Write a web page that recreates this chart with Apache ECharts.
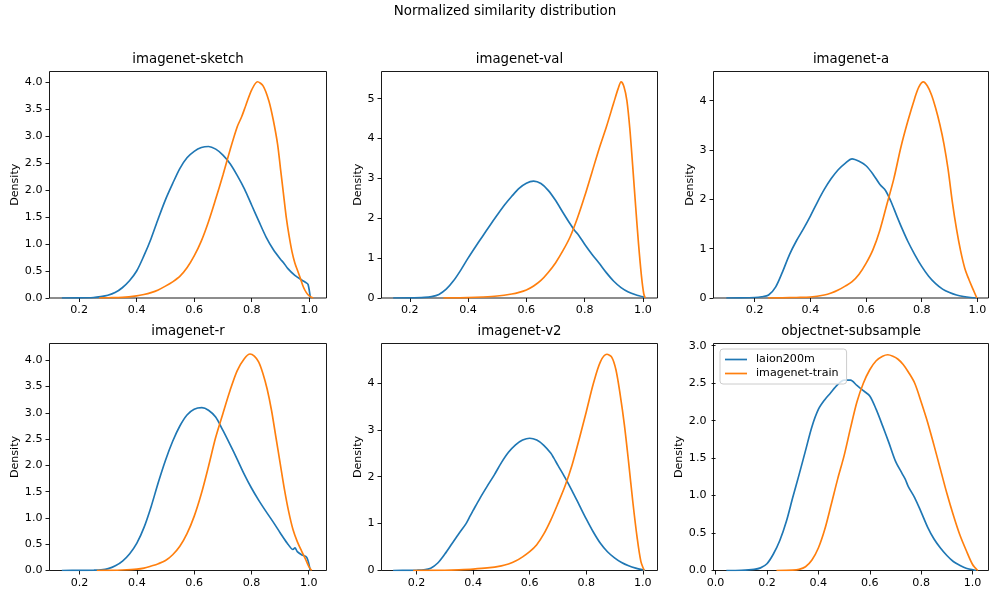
<!DOCTYPE html>
<html><head><meta charset="utf-8">
<script src="https://cdn.jsdelivr.net/npm/echarts@6/dist/echarts.min.js"></script>
<style>html,body{margin:0;padding:0;background:#fff}#c{width:990px;height:590px}</style>
</head><body><div id="c"></div>
<script>
// ---------- data ----------
const figureTitle = 'Normalized similarity distribution';
const seriesNames = ['laion200m', 'imagenet-train'];
const panelTitles = ['imagenet-sketch', 'imagenet-val', 'imagenet-a', 'imagenet-r', 'imagenet-v2', 'objectnet-subsample'];
const yAxisName = 'Density';

const sketchLaion = [[0.14,0],[0.2,0.002],[0.25,0.01],[0.275,0.025],[0.3,0.05],[0.325,0.1],[0.35,0.19],[0.375,0.32],[0.4,0.5],[0.425,0.78],[0.45,1.1],[0.475,1.47],[0.5,1.82],[0.525,2.12],[0.55,2.4],[0.575,2.6],[0.6,2.72],[0.625,2.79],[0.65,2.81],[0.675,2.76],[0.7,2.65],[0.725,2.49],[0.75,2.27],[0.775,2.02],[0.8,1.72],[0.825,1.42],[0.85,1.13],[0.875,0.9],[0.9,0.72],[0.91,0.66],[0.925,0.55],[0.95,0.42],[0.975,0.33],[0.99,0.28],[0.996,0.25],[1.004,0]];
const sketchTrain = [[0.27,0],[0.3,0.004],[0.35,0.012],[0.4,0.04],[0.425,0.065],[0.45,0.1],[0.475,0.15],[0.5,0.22],[0.525,0.3],[0.55,0.4],[0.575,0.56],[0.6,0.78],[0.625,1.06],[0.65,1.42],[0.675,1.84],[0.7,2.28],[0.725,2.75],[0.75,3.18],[0.765,3.36],[0.78,3.58],[0.8,3.86],[0.82,4.01],[0.84,3.93],[0.86,3.65],[0.875,3.3],[0.89,2.85],[0.9,2.4],[0.91,1.95],[0.92,1.5],[0.93,1.15],[0.94,0.86],[0.95,0.65],[0.96,0.5],[0.97,0.35],[0.98,0.2],[0.99,0.1],[1.0,0.04],[1.014,0]];

const valLaion = [[0.143,0],[0.2,0.003],[0.25,0.015],[0.275,0.035],[0.3,0.09],[0.325,0.22],[0.35,0.43],[0.375,0.7],[0.4,1.0],[0.425,1.28],[0.45,1.55],[0.475,1.82],[0.5,2.08],[0.525,2.33],[0.55,2.55],[0.575,2.75],[0.6,2.88],[0.625,2.93],[0.65,2.87],[0.675,2.7],[0.7,2.45],[0.725,2.15],[0.75,1.86],[0.765,1.7],[0.78,1.57],[0.8,1.35],[0.825,1.1],[0.85,0.87],[0.875,0.63],[0.9,0.42],[0.925,0.26],[0.95,0.15],[0.975,0.08],[1.0,0.03],[1.005,0]];
const valTrain = [[0.315,0],[0.35,0.003],[0.4,0.01],[0.45,0.025],[0.5,0.05],[0.55,0.1],[0.575,0.14],[0.6,0.2],[0.625,0.3],[0.65,0.44],[0.675,0.64],[0.7,0.88],[0.725,1.18],[0.75,1.53],[0.775,2.0],[0.8,2.55],[0.825,3.15],[0.85,3.75],[0.875,4.3],[0.9,4.9],[0.915,5.25],[0.925,5.42],[0.935,5.3],[0.945,4.95],[0.955,4.25],[0.965,3.3],[0.975,2.3],[0.985,1.35],[0.995,0.55],[1.003,0.1],[1.008,0]];

const aLaion = [[0.098,0],[0.15,0.002],[0.2,0.01],[0.225,0.025],[0.25,0.06],[0.275,0.22],[0.3,0.53],[0.325,0.88],[0.35,1.16],[0.375,1.4],[0.4,1.66],[0.425,1.94],[0.45,2.2],[0.475,2.42],[0.5,2.6],[0.525,2.73],[0.55,2.82],[0.575,2.77],[0.6,2.68],[0.625,2.51],[0.65,2.3],[0.67,2.18],[0.69,1.95],[0.71,1.67],[0.73,1.4],[0.75,1.15],[0.775,0.88],[0.8,0.64],[0.825,0.44],[0.85,0.29],[0.875,0.18],[0.9,0.11],[0.925,0.06],[0.95,0.03],[0.975,0.01],[0.998,0]];
const aTrain = [[0.248,0],[0.3,0.003],[0.35,0.01],[0.4,0.02],[0.45,0.06],[0.475,0.1],[0.5,0.16],[0.525,0.24],[0.55,0.33],[0.575,0.48],[0.6,0.7],[0.625,0.98],[0.65,1.38],[0.675,1.9],[0.7,2.42],[0.725,3.05],[0.75,3.58],[0.775,4.05],[0.79,4.28],[0.806,4.38],[0.82,4.3],[0.835,4.12],[0.85,3.85],[0.865,3.52],[0.88,3.12],[0.895,2.6],[0.91,1.95],[0.925,1.4],[0.94,0.95],[0.955,0.6],[0.97,0.37],[0.985,0.17],[0.998,0]];

const rLaion = [[0.138,0],[0.2,0.002],[0.25,0.006],[0.275,0.012],[0.3,0.035],[0.325,0.09],[0.35,0.18],[0.375,0.32],[0.4,0.52],[0.425,0.82],[0.45,1.22],[0.475,1.68],[0.5,2.1],[0.525,2.46],[0.55,2.75],[0.575,2.96],[0.6,3.07],[0.627,3.1],[0.65,3.05],[0.675,2.92],[0.7,2.67],[0.725,2.4],[0.75,2.12],[0.775,1.83],[0.8,1.57],[0.825,1.34],[0.85,1.13],[0.875,0.93],[0.9,0.72],[0.925,0.52],[0.945,0.4],[0.952,0.43],[0.96,0.36],[0.975,0.3],[0.993,0.25],[1.005,0]];
const rTrain = [[0.26,0],[0.3,0.003],[0.35,0.01],[0.4,0.025],[0.425,0.045],[0.45,0.085],[0.475,0.13],[0.5,0.19],[0.525,0.3],[0.55,0.46],[0.575,0.7],[0.6,1.03],[0.625,1.46],[0.65,1.98],[0.675,2.53],[0.7,2.98],[0.725,3.42],[0.75,3.8],[0.775,4.03],[0.795,4.12],[0.81,4.08],[0.825,3.97],[0.84,3.75],[0.855,3.45],[0.87,3.05],[0.885,2.55],[0.9,2.05],[0.915,1.55],[0.93,1.12],[0.945,0.78],[0.96,0.55],[0.975,0.37],[0.99,0.2],[1.0,0.08],[1.01,0]];

const v2Laion = [[0.117,0],[0.175,0.003],[0.2,0.006],[0.225,0.015],[0.25,0.05],[0.275,0.16],[0.3,0.35],[0.325,0.57],[0.35,0.79],[0.375,1.0],[0.39,1.17],[0.4,1.28],[0.425,1.55],[0.45,1.8],[0.475,2.04],[0.5,2.3],[0.525,2.52],[0.55,2.68],[0.575,2.78],[0.6,2.82],[0.625,2.78],[0.65,2.67],[0.675,2.5],[0.685,2.4],[0.7,2.24],[0.725,1.98],[0.75,1.7],[0.775,1.4],[0.8,1.1],[0.825,0.82],[0.85,0.58],[0.875,0.4],[0.9,0.27],[0.925,0.17],[0.95,0.1],[0.975,0.05],[1.008,0]];
const v2Train = [[0.188,0],[0.25,0.002],[0.3,0.005],[0.35,0.015],[0.4,0.03],[0.45,0.055],[0.5,0.1],[0.525,0.14],[0.55,0.2],[0.575,0.29],[0.6,0.4],[0.625,0.55],[0.65,0.78],[0.675,1.08],[0.7,1.43],[0.725,1.8],[0.75,2.25],[0.775,2.8],[0.8,3.38],[0.825,3.98],[0.85,4.45],[0.873,4.61],[0.89,4.55],[0.905,4.28],[0.92,3.75],[0.935,3.1],[0.95,2.3],[0.965,1.45],[0.98,0.7],[0.993,0.2],[1.005,0]];

const objLaion = [[0.042,0],[0.1,0.003],[0.15,0.015],[0.175,0.035],[0.2,0.09],[0.225,0.22],[0.25,0.4],[0.275,0.65],[0.3,0.97],[0.325,1.28],[0.35,1.6],[0.375,1.92],[0.4,2.15],[0.425,2.28],[0.445,2.36],[0.475,2.48],[0.5,2.54],[0.525,2.54],[0.55,2.47],[0.575,2.4],[0.6,2.33],[0.625,2.15],[0.65,1.93],[0.675,1.7],[0.7,1.46],[0.725,1.3],[0.738,1.22],[0.75,1.12],[0.775,0.97],[0.8,0.78],[0.825,0.58],[0.85,0.42],[0.875,0.3],[0.9,0.2],[0.925,0.12],[0.95,0.07],[0.975,0.03],[1.013,0]];
const objTrain = [[0.237,0],[0.3,0.005],[0.325,0.015],[0.35,0.05],[0.375,0.14],[0.4,0.3],[0.425,0.55],[0.45,0.88],[0.475,1.22],[0.5,1.53],[0.525,1.9],[0.55,2.25],[0.575,2.5],[0.6,2.68],[0.625,2.8],[0.65,2.86],[0.67,2.88],[0.69,2.86],[0.71,2.82],[0.73,2.75],[0.75,2.65],[0.775,2.5],[0.8,2.25],[0.825,1.98],[0.85,1.67],[0.875,1.35],[0.9,1.03],[0.925,0.74],[0.95,0.48],[0.975,0.27],[1.0,0.08],[1.02,0]];

const xTicksA = [0.2, 0.4, 0.6, 0.8, 1.0];
const xTicksB = [0.0, 0.2, 0.4, 0.6, 0.8, 1.0];
const yTicksHalf4 = [0, 0.5, 1.0, 1.5, 2.0, 2.5, 3.0, 3.5, 4.0];
const yTicksInt5 = [0, 1, 2, 3, 4, 5];
const yTicksInt4 = [0, 1, 2, 3, 4];
const yTicksHalf3 = [0, 0.5, 1.0, 1.5, 2.0, 2.5, 3.0];

// ---------- layout ----------
const FONT = 'DejaVu Sans';
const COLORS = ['#1f77b4', '#ff7f0e'];
const panels = [
  {laion: sketchLaion, train: sketchTrain, xTicks: xTicksA, yTicks: yTicksHalf4, yDec: 1, left: 49.5, top: 71.5, width: 277, height: 226.5, xMin: 0.097, xMax: 1.06, yMax: 4.2, nameGap: 28},
  {laion: valLaion, train: valTrain, xTicks: xTicksA, yTicks: yTicksInt5, yDec: 0, left: 381.5, top: 71.5, width: 276, height: 226.5, xMin: 0.103, xMax: 1.05, yMax: 5.68, nameGap: 18},
  {laion: aLaion, train: aTrain, xTicks: xTicksA, yTicks: yTicksInt4, yDec: 0, left: 713.5, top: 71.5, width: 275, height: 226.5, xMin: 0.052, xMax: 1.04, yMax: 4.59, nameGap: 18},
  {laion: rLaion, train: rTrain, xTicks: xTicksA, yTicks: yTicksHalf4, yDec: 1, left: 49.5, top: 343.5, width: 277, height: 227, xMin: 0.095, xMax: 1.062, yMax: 4.32, nameGap: 28},
  {laion: v2Laion, train: v2Train, xTicks: xTicksA, yTicks: yTicksInt4, yDec: 0, left: 381.5, top: 343.5, width: 276, height: 227, xMin: 0.076, xMax: 1.052, yMax: 4.84, nameGap: 18},
  {laion: objLaion, train: objTrain, xTicks: xTicksB, yTicks: yTicksHalf3, yDec: 1, left: 713.5, top: 343.5, width: 275, height: 227, xMin: -0.008, xMax: 1.062, yMax: 3.03, nameGap: 28}
];

const grid = [], xAxis = [], yAxis = [], series = [], graphic = [];
graphic.push({type: 'text', x: 505, y: 12, style: {text: figureTitle, font: '13.4px ' + FONT, fill: '#000', align: 'center', verticalAlign: 'middle'}});

panels.forEach((p, i) => {
  grid.push({left: p.left, top: p.top, width: p.width, height: p.height, show: true, borderColor: '#000', borderWidth: 0.9, backgroundColor: 'transparent', containLabel: false});
  const axisCommon = {
    axisLine: {show: false},
    axisTick: {show: true, length: 4, lineStyle: {color: '#000', width: 0.9}},
    splitLine: {show: false},
    axisLabel: {color: '#000', fontSize: 11.1, fontFamily: FONT, margin: 7}
  };
  xAxis.push(Object.assign({}, axisCommon, {
    type: 'value', gridIndex: i, min: p.xMin, max: p.xMax,
    axisTick: Object.assign({}, axisCommon.axisTick, {customValues: p.xTicks}),
    axisLabel: Object.assign({}, axisCommon.axisLabel, {customValues: p.xTicks, formatter: v => v.toFixed(1)})
  }));
  yAxis.push(Object.assign({}, axisCommon, {
    type: 'value', gridIndex: i, min: 0, max: p.yMax,
    name: yAxisName, nameLocation: 'middle', nameRotate: 90, nameGap: p.nameGap,
    nameTextStyle: {color: '#000', fontSize: 11.1, fontFamily: FONT},
    axisTick: Object.assign({}, axisCommon.axisTick, {customValues: p.yTicks}),
    axisLabel: Object.assign({}, axisCommon.axisLabel, {customValues: p.yTicks, formatter: v => v.toFixed(p.yDec)})
  }));
  [p.laion, p.train].forEach((d, k) => {
    series.push({
      type: 'line', name: seriesNames[k], xAxisIndex: i, yAxisIndex: i,
      data: d, showSymbol: false, symbol: 'none', smooth: 0.3,
      lineStyle: {color: COLORS[k], width: 1.67}, itemStyle: {color: COLORS[k]},
      silent: true, clip: true
    });
  });
  graphic.push({type: 'text', x: p.left + p.width / 2, y: p.top - 12, style: {text: panelTitles[i], font: '13.3px ' + FONT, fill: '#000', align: 'center', verticalAlign: 'middle'}});
});

const chart = echarts.init(document.getElementById('c'), null, {renderer: 'canvas'});
chart.setOption({
  animation: false,
  backgroundColor: '#fff',
  grid, xAxis, yAxis, series, graphic,
  legend: {
    data: seriesNames, orient: 'vertical', left: 720, top: 349,
    icon: 'rect', itemWidth: 22, itemHeight: 1.7, itemGap: 3,
    padding: [5, 8, 5, 5],
    backgroundColor: 'rgba(255,255,255,0.8)', borderColor: '#cccccc', borderWidth: 1, borderRadius: 3,
    textStyle: {color: '#000', fontSize: 11.1, fontFamily: FONT, padding: [0, 0, 0, 4]},
    selectedMode: false
  }
});
</script></body></html>
